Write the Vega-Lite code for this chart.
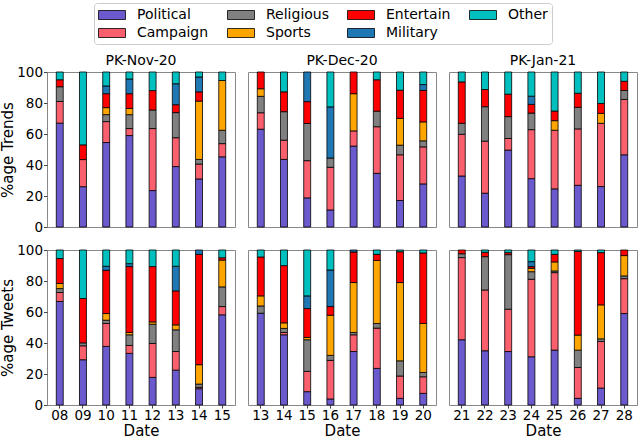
{
  "$schema": "https://vega.github.io/schema/vega-lite/v6.json",
  "padding": {"left": 0, "top": 2, "right": 0, "bottom": 0},
  "bounds": "flush",
  "config": {
    "font": "DejaVu Sans",
    "view": {"stroke": "#888888", "strokeWidth": 1},
    "title": {"fontSize": 14, "fontWeight": "normal", "color": "black", "offset": 4},
    "axis": {"domain": false, "grid": false, "labelFontSize": 13.5, "labelColor": "black", "tickColor": "#444", "tickSize": 3.5, "labelPadding": 1, "titleFontSize": 15, "titleFontWeight": "normal", "titleColor": "black", "titlePadding": 1},
    "axisX": {"tickSize": 3, "labelPadding": 0, "titlePadding": 2, "titleFontSize": 15},
    "legend": {
      "orient": "none", "legendX": 47, "legendY": -69, "columns": 4, "title": null,
      "strokeColor": "#cccccc", "cornerRadius": 3, "padding": 4, "fillColor": "white",
      "symbolType": "M-1,-0.6H2.6V0.6H-1Z", "symbolSize": 225, "symbolStrokeColor": "black", "symbolStrokeWidth": 0.8, "symbolOpacity": 1,
      "labelFontSize": 14, "labelOffset": 23, "columnPadding": 16, "rowPadding": 3
    }
  },
  "data": {
    "values": [
      {"month": "PK-Nov-20", "kind": "Trends", "date": "08", "cat": "Political", "pct": 67},
      {"month": "PK-Nov-20", "kind": "Trends", "date": "08", "cat": "Campaign", "pct": 14},
      {"month": "PK-Nov-20", "kind": "Trends", "date": "08", "cat": "Religious", "pct": 9.5},
      {"month": "PK-Nov-20", "kind": "Trends", "date": "08", "cat": "Entertain", "pct": 4.5},
      {"month": "PK-Nov-20", "kind": "Trends", "date": "08", "cat": "Other", "pct": 5},
      {"month": "PK-Nov-20", "kind": "Trends", "date": "09", "cat": "Political", "pct": 26},
      {"month": "PK-Nov-20", "kind": "Trends", "date": "09", "cat": "Campaign", "pct": 17.5},
      {"month": "PK-Nov-20", "kind": "Trends", "date": "09", "cat": "Entertain", "pct": 9.5},
      {"month": "PK-Nov-20", "kind": "Trends", "date": "09", "cat": "Other", "pct": 47},
      {"month": "PK-Nov-20", "kind": "Trends", "date": "10", "cat": "Political", "pct": 54.5},
      {"month": "PK-Nov-20", "kind": "Trends", "date": "10", "cat": "Campaign", "pct": 13.5},
      {"month": "PK-Nov-20", "kind": "Trends", "date": "10", "cat": "Religious", "pct": 4.5},
      {"month": "PK-Nov-20", "kind": "Trends", "date": "10", "cat": "Sports", "pct": 4.5},
      {"month": "PK-Nov-20", "kind": "Trends", "date": "10", "cat": "Entertain", "pct": 9},
      {"month": "PK-Nov-20", "kind": "Trends", "date": "10", "cat": "Military", "pct": 5},
      {"month": "PK-Nov-20", "kind": "Trends", "date": "10", "cat": "Other", "pct": 9},
      {"month": "PK-Nov-20", "kind": "Trends", "date": "11", "cat": "Political", "pct": 59},
      {"month": "PK-Nov-20", "kind": "Trends", "date": "11", "cat": "Campaign", "pct": 4.5},
      {"month": "PK-Nov-20", "kind": "Trends", "date": "11", "cat": "Religious", "pct": 9},
      {"month": "PK-Nov-20", "kind": "Trends", "date": "11", "cat": "Sports", "pct": 4},
      {"month": "PK-Nov-20", "kind": "Trends", "date": "11", "cat": "Entertain", "pct": 9.5},
      {"month": "PK-Nov-20", "kind": "Trends", "date": "11", "cat": "Military", "pct": 9.5},
      {"month": "PK-Nov-20", "kind": "Trends", "date": "11", "cat": "Other", "pct": 4.5},
      {"month": "PK-Nov-20", "kind": "Trends", "date": "12", "cat": "Political", "pct": 23.5},
      {"month": "PK-Nov-20", "kind": "Trends", "date": "12", "cat": "Campaign", "pct": 40},
      {"month": "PK-Nov-20", "kind": "Trends", "date": "12", "cat": "Religious", "pct": 12},
      {"month": "PK-Nov-20", "kind": "Trends", "date": "12", "cat": "Entertain", "pct": 12.5},
      {"month": "PK-Nov-20", "kind": "Trends", "date": "12", "cat": "Other", "pct": 12},
      {"month": "PK-Nov-20", "kind": "Trends", "date": "13", "cat": "Political", "pct": 39},
      {"month": "PK-Nov-20", "kind": "Trends", "date": "13", "cat": "Campaign", "pct": 18.6},
      {"month": "PK-Nov-20", "kind": "Trends", "date": "13", "cat": "Religious", "pct": 16.2},
      {"month": "PK-Nov-20", "kind": "Trends", "date": "13", "cat": "Entertain", "pct": 5.1},
      {"month": "PK-Nov-20", "kind": "Trends", "date": "13", "cat": "Military", "pct": 13.5},
      {"month": "PK-Nov-20", "kind": "Trends", "date": "13", "cat": "Other", "pct": 7.6},
      {"month": "PK-Nov-20", "kind": "Trends", "date": "14", "cat": "Political", "pct": 31},
      {"month": "PK-Nov-20", "kind": "Trends", "date": "14", "cat": "Campaign", "pct": 9.6},
      {"month": "PK-Nov-20", "kind": "Trends", "date": "14", "cat": "Religious", "pct": 3},
      {"month": "PK-Nov-20", "kind": "Trends", "date": "14", "cat": "Sports", "pct": 37.6},
      {"month": "PK-Nov-20", "kind": "Trends", "date": "14", "cat": "Entertain", "pct": 6},
      {"month": "PK-Nov-20", "kind": "Trends", "date": "14", "cat": "Military", "pct": 9.6},
      {"month": "PK-Nov-20", "kind": "Trends", "date": "14", "cat": "Other", "pct": 3.2},
      {"month": "PK-Nov-20", "kind": "Trends", "date": "15", "cat": "Political", "pct": 45.3},
      {"month": "PK-Nov-20", "kind": "Trends", "date": "15", "cat": "Campaign", "pct": 8.5},
      {"month": "PK-Nov-20", "kind": "Trends", "date": "15", "cat": "Religious", "pct": 8.6},
      {"month": "PK-Nov-20", "kind": "Trends", "date": "15", "cat": "Sports", "pct": 32.1},
      {"month": "PK-Nov-20", "kind": "Trends", "date": "15", "cat": "Other", "pct": 5.5},

      {"month": "PK-Dec-20", "kind": "Trends", "date": "13", "cat": "Political", "pct": 63.1},
      {"month": "PK-Dec-20", "kind": "Trends", "date": "13", "cat": "Campaign", "pct": 10.6},
      {"month": "PK-Dec-20", "kind": "Trends", "date": "13", "cat": "Religious", "pct": 10.6},
      {"month": "PK-Dec-20", "kind": "Trends", "date": "13", "cat": "Sports", "pct": 4.9},
      {"month": "PK-Dec-20", "kind": "Trends", "date": "13", "cat": "Entertain", "pct": 10.8},
      {"month": "PK-Dec-20", "kind": "Trends", "date": "14", "cat": "Political", "pct": 43.6},
      {"month": "PK-Dec-20", "kind": "Trends", "date": "14", "cat": "Campaign", "pct": 12.4},
      {"month": "PK-Dec-20", "kind": "Trends", "date": "14", "cat": "Religious", "pct": 18.4},
      {"month": "PK-Dec-20", "kind": "Trends", "date": "14", "cat": "Entertain", "pct": 12.8},
      {"month": "PK-Dec-20", "kind": "Trends", "date": "14", "cat": "Other", "pct": 12.8},
      {"month": "PK-Dec-20", "kind": "Trends", "date": "15", "cat": "Political", "pct": 18.8},
      {"month": "PK-Dec-20", "kind": "Trends", "date": "15", "cat": "Campaign", "pct": 24},
      {"month": "PK-Dec-20", "kind": "Trends", "date": "15", "cat": "Religious", "pct": 24},
      {"month": "PK-Dec-20", "kind": "Trends", "date": "15", "cat": "Entertain", "pct": 14.1},
      {"month": "PK-Dec-20", "kind": "Trends", "date": "15", "cat": "Military", "pct": 19.1},
      {"month": "PK-Dec-20", "kind": "Trends", "date": "16", "cat": "Political", "pct": 11},
      {"month": "PK-Dec-20", "kind": "Trends", "date": "16", "cat": "Campaign", "pct": 27.5},
      {"month": "PK-Dec-20", "kind": "Trends", "date": "16", "cat": "Religious", "pct": 6},
      {"month": "PK-Dec-20", "kind": "Trends", "date": "16", "cat": "Military", "pct": 33},
      {"month": "PK-Dec-20", "kind": "Trends", "date": "16", "cat": "Other", "pct": 22.5},
      {"month": "PK-Dec-20", "kind": "Trends", "date": "17", "cat": "Political", "pct": 52.2},
      {"month": "PK-Dec-20", "kind": "Trends", "date": "17", "cat": "Campaign", "pct": 9.8},
      {"month": "PK-Dec-20", "kind": "Trends", "date": "17", "cat": "Sports", "pct": 24},
      {"month": "PK-Dec-20", "kind": "Trends", "date": "17", "cat": "Entertain", "pct": 14},
      {"month": "PK-Dec-20", "kind": "Trends", "date": "18", "cat": "Political", "pct": 34.6},
      {"month": "PK-Dec-20", "kind": "Trends", "date": "18", "cat": "Campaign", "pct": 30.1},
      {"month": "PK-Dec-20", "kind": "Trends", "date": "18", "cat": "Religious", "pct": 10},
      {"month": "PK-Dec-20", "kind": "Trends", "date": "18", "cat": "Entertain", "pct": 20.3},
      {"month": "PK-Dec-20", "kind": "Trends", "date": "18", "cat": "Other", "pct": 5},
      {"month": "PK-Dec-20", "kind": "Trends", "date": "19", "cat": "Political", "pct": 17.1},
      {"month": "PK-Dec-20", "kind": "Trends", "date": "19", "cat": "Campaign", "pct": 29.5},
      {"month": "PK-Dec-20", "kind": "Trends", "date": "19", "cat": "Religious", "pct": 6.2},
      {"month": "PK-Dec-20", "kind": "Trends", "date": "19", "cat": "Sports", "pct": 17.3},
      {"month": "PK-Dec-20", "kind": "Trends", "date": "19", "cat": "Entertain", "pct": 18.2},
      {"month": "PK-Dec-20", "kind": "Trends", "date": "19", "cat": "Other", "pct": 11.7},
      {"month": "PK-Dec-20", "kind": "Trends", "date": "20", "cat": "Political", "pct": 27.8},
      {"month": "PK-Dec-20", "kind": "Trends", "date": "20", "cat": "Campaign", "pct": 23.9},
      {"month": "PK-Dec-20", "kind": "Trends", "date": "20", "cat": "Religious", "pct": 3.9},
      {"month": "PK-Dec-20", "kind": "Trends", "date": "20", "cat": "Sports", "pct": 12.2},
      {"month": "PK-Dec-20", "kind": "Trends", "date": "20", "cat": "Entertain", "pct": 20.3},
      {"month": "PK-Dec-20", "kind": "Trends", "date": "20", "cat": "Military", "pct": 3.8},
      {"month": "PK-Dec-20", "kind": "Trends", "date": "20", "cat": "Other", "pct": 8.1},

      {"month": "PK-Jan-21", "kind": "Trends", "date": "21", "cat": "Political", "pct": 32.9},
      {"month": "PK-Jan-21", "kind": "Trends", "date": "21", "cat": "Campaign", "pct": 26.9},
      {"month": "PK-Jan-21", "kind": "Trends", "date": "21", "cat": "Religious", "pct": 7.1},
      {"month": "PK-Jan-21", "kind": "Trends", "date": "21", "cat": "Entertain", "pct": 26.7},
      {"month": "PK-Jan-21", "kind": "Trends", "date": "21", "cat": "Other", "pct": 6.4},
      {"month": "PK-Jan-21", "kind": "Trends", "date": "22", "cat": "Political", "pct": 21.8},
      {"month": "PK-Jan-21", "kind": "Trends", "date": "22", "cat": "Campaign", "pct": 33.6},
      {"month": "PK-Jan-21", "kind": "Trends", "date": "22", "cat": "Religious", "pct": 22.2},
      {"month": "PK-Jan-21", "kind": "Trends", "date": "22", "cat": "Entertain", "pct": 11.1},
      {"month": "PK-Jan-21", "kind": "Trends", "date": "22", "cat": "Other", "pct": 11.3},
      {"month": "PK-Jan-21", "kind": "Trends", "date": "23", "cat": "Political", "pct": 49.6},
      {"month": "PK-Jan-21", "kind": "Trends", "date": "23", "cat": "Campaign", "pct": 7.5},
      {"month": "PK-Jan-21", "kind": "Trends", "date": "23", "cat": "Religious", "pct": 14.1},
      {"month": "PK-Jan-21", "kind": "Trends", "date": "23", "cat": "Entertain", "pct": 14.5},
      {"month": "PK-Jan-21", "kind": "Trends", "date": "23", "cat": "Other", "pct": 14.3},
      {"month": "PK-Jan-21", "kind": "Trends", "date": "24", "cat": "Political", "pct": 31.2},
      {"month": "PK-Jan-21", "kind": "Trends", "date": "24", "cat": "Campaign", "pct": 31.6},
      {"month": "PK-Jan-21", "kind": "Trends", "date": "24", "cat": "Religious", "pct": 10.7},
      {"month": "PK-Jan-21", "kind": "Trends", "date": "24", "cat": "Entertain", "pct": 5.6},
      {"month": "PK-Jan-21", "kind": "Trends", "date": "24", "cat": "Military", "pct": 5.3},
      {"month": "PK-Jan-21", "kind": "Trends", "date": "24", "cat": "Other", "pct": 15.6},
      {"month": "PK-Jan-21", "kind": "Trends", "date": "25", "cat": "Political", "pct": 24.6},
      {"month": "PK-Jan-21", "kind": "Trends", "date": "25", "cat": "Campaign", "pct": 37.8},
      {"month": "PK-Jan-21", "kind": "Trends", "date": "25", "cat": "Sports", "pct": 6.2},
      {"month": "PK-Jan-21", "kind": "Trends", "date": "25", "cat": "Entertain", "pct": 6.2},
      {"month": "PK-Jan-21", "kind": "Trends", "date": "25", "cat": "Other", "pct": 25.2},
      {"month": "PK-Jan-21", "kind": "Trends", "date": "26", "cat": "Political", "pct": 26.9},
      {"month": "PK-Jan-21", "kind": "Trends", "date": "26", "cat": "Campaign", "pct": 36.4},
      {"month": "PK-Jan-21", "kind": "Trends", "date": "26", "cat": "Religious", "pct": 13.9},
      {"month": "PK-Jan-21", "kind": "Trends", "date": "26", "cat": "Entertain", "pct": 9.1},
      {"month": "PK-Jan-21", "kind": "Trends", "date": "26", "cat": "Other", "pct": 13.7},
      {"month": "PK-Jan-21", "kind": "Trends", "date": "27", "cat": "Political", "pct": 26.1},
      {"month": "PK-Jan-21", "kind": "Trends", "date": "27", "cat": "Campaign", "pct": 40.8},
      {"month": "PK-Jan-21", "kind": "Trends", "date": "27", "cat": "Sports", "pct": 6.4},
      {"month": "PK-Jan-21", "kind": "Trends", "date": "27", "cat": "Entertain", "pct": 6.4},
      {"month": "PK-Jan-21", "kind": "Trends", "date": "27", "cat": "Other", "pct": 20.3},
      {"month": "PK-Jan-21", "kind": "Trends", "date": "28", "cat": "Political", "pct": 46.6},
      {"month": "PK-Jan-21", "kind": "Trends", "date": "28", "cat": "Campaign", "pct": 35.7},
      {"month": "PK-Jan-21", "kind": "Trends", "date": "28", "cat": "Religious", "pct": 5.8},
      {"month": "PK-Jan-21", "kind": "Trends", "date": "28", "cat": "Entertain", "pct": 5.9},
      {"month": "PK-Jan-21", "kind": "Trends", "date": "28", "cat": "Other", "pct": 6},

      {"month": "PK-Nov-20", "kind": "Tweets", "date": "08", "cat": "Political", "pct": 66.8},
      {"month": "PK-Nov-20", "kind": "Tweets", "date": "08", "cat": "Campaign", "pct": 5.8},
      {"month": "PK-Nov-20", "kind": "Tweets", "date": "08", "cat": "Religious", "pct": 2.5},
      {"month": "PK-Nov-20", "kind": "Tweets", "date": "08", "cat": "Sports", "pct": 3.3},
      {"month": "PK-Nov-20", "kind": "Tweets", "date": "08", "cat": "Entertain", "pct": 16.1},
      {"month": "PK-Nov-20", "kind": "Tweets", "date": "08", "cat": "Other", "pct": 5.5},
      {"month": "PK-Nov-20", "kind": "Tweets", "date": "09", "cat": "Political", "pct": 29.2},
      {"month": "PK-Nov-20", "kind": "Tweets", "date": "09", "cat": "Campaign", "pct": 9},
      {"month": "PK-Nov-20", "kind": "Tweets", "date": "09", "cat": "Religious", "pct": 1.9},
      {"month": "PK-Nov-20", "kind": "Tweets", "date": "09", "cat": "Entertain", "pct": 28.6},
      {"month": "PK-Nov-20", "kind": "Tweets", "date": "09", "cat": "Other", "pct": 31.3},
      {"month": "PK-Nov-20", "kind": "Tweets", "date": "10", "cat": "Political", "pct": 37.8},
      {"month": "PK-Nov-20", "kind": "Tweets", "date": "10", "cat": "Campaign", "pct": 14.8},
      {"month": "PK-Nov-20", "kind": "Tweets", "date": "10", "cat": "Religious", "pct": 2.1},
      {"month": "PK-Nov-20", "kind": "Tweets", "date": "10", "cat": "Sports", "pct": 4.3},
      {"month": "PK-Nov-20", "kind": "Tweets", "date": "10", "cat": "Entertain", "pct": 27.9},
      {"month": "PK-Nov-20", "kind": "Tweets", "date": "10", "cat": "Military", "pct": 2.6},
      {"month": "PK-Nov-20", "kind": "Tweets", "date": "10", "cat": "Other", "pct": 10.5},
      {"month": "PK-Nov-20", "kind": "Tweets", "date": "11", "cat": "Political", "pct": 33.3},
      {"month": "PK-Nov-20", "kind": "Tweets", "date": "11", "cat": "Campaign", "pct": 5.1},
      {"month": "PK-Nov-20", "kind": "Tweets", "date": "11", "cat": "Religious", "pct": 6.9},
      {"month": "PK-Nov-20", "kind": "Tweets", "date": "11", "cat": "Sports", "pct": 1.5},
      {"month": "PK-Nov-20", "kind": "Tweets", "date": "11", "cat": "Entertain", "pct": 42.5},
      {"month": "PK-Nov-20", "kind": "Tweets", "date": "11", "cat": "Military", "pct": 1.9},
      {"month": "PK-Nov-20", "kind": "Tweets", "date": "11", "cat": "Other", "pct": 8.8},
      {"month": "PK-Nov-20", "kind": "Tweets", "date": "12", "cat": "Political", "pct": 17.8},
      {"month": "PK-Nov-20", "kind": "Tweets", "date": "12", "cat": "Campaign", "pct": 21.9},
      {"month": "PK-Nov-20", "kind": "Tweets", "date": "12", "cat": "Religious", "pct": 12.4},
      {"month": "PK-Nov-20", "kind": "Tweets", "date": "12", "cat": "Sports", "pct": 1.5},
      {"month": "PK-Nov-20", "kind": "Tweets", "date": "12", "cat": "Entertain", "pct": 35.7},
      {"month": "PK-Nov-20", "kind": "Tweets", "date": "12", "cat": "Other", "pct": 10.7},
      {"month": "PK-Nov-20", "kind": "Tweets", "date": "13", "cat": "Political", "pct": 22.5},
      {"month": "PK-Nov-20", "kind": "Tweets", "date": "13", "cat": "Campaign", "pct": 12},
      {"month": "PK-Nov-20", "kind": "Tweets", "date": "13", "cat": "Religious", "pct": 14},
      {"month": "PK-Nov-20", "kind": "Tweets", "date": "13", "cat": "Sports", "pct": 3.2},
      {"month": "PK-Nov-20", "kind": "Tweets", "date": "13", "cat": "Entertain", "pct": 21.9},
      {"month": "PK-Nov-20", "kind": "Tweets", "date": "13", "cat": "Military", "pct": 15.9},
      {"month": "PK-Nov-20", "kind": "Tweets", "date": "13", "cat": "Other", "pct": 10.5},
      {"month": "PK-Nov-20", "kind": "Tweets", "date": "14", "cat": "Political", "pct": 10.5},
      {"month": "PK-Nov-20", "kind": "Tweets", "date": "14", "cat": "Campaign", "pct": 0.9},
      {"month": "PK-Nov-20", "kind": "Tweets", "date": "14", "cat": "Religious", "pct": 2.1},
      {"month": "PK-Nov-20", "kind": "Tweets", "date": "14", "cat": "Sports", "pct": 12.5},
      {"month": "PK-Nov-20", "kind": "Tweets", "date": "14", "cat": "Entertain", "pct": 71.2},
      {"month": "PK-Nov-20", "kind": "Tweets", "date": "14", "cat": "Military", "pct": 2.8},
      {"month": "PK-Nov-20", "kind": "Tweets", "date": "15", "cat": "Political", "pct": 58.2},
      {"month": "PK-Nov-20", "kind": "Tweets", "date": "15", "cat": "Campaign", "pct": 5.3},
      {"month": "PK-Nov-20", "kind": "Tweets", "date": "15", "cat": "Religious", "pct": 12.7},
      {"month": "PK-Nov-20", "kind": "Tweets", "date": "15", "cat": "Sports", "pct": 17.3},
      {"month": "PK-Nov-20", "kind": "Tweets", "date": "15", "cat": "Entertain", "pct": 1.5},
      {"month": "PK-Nov-20", "kind": "Tweets", "date": "15", "cat": "Other", "pct": 5},

      {"month": "PK-Dec-20", "kind": "Tweets", "date": "13", "cat": "Political", "pct": 59.2},
      {"month": "PK-Dec-20", "kind": "Tweets", "date": "13", "cat": "Religious", "pct": 4.7},
      {"month": "PK-Dec-20", "kind": "Tweets", "date": "13", "cat": "Sports", "pct": 6.5},
      {"month": "PK-Dec-20", "kind": "Tweets", "date": "13", "cat": "Entertain", "pct": 25.1},
      {"month": "PK-Dec-20", "kind": "Tweets", "date": "13", "cat": "Other", "pct": 4.5},
      {"month": "PK-Dec-20", "kind": "Tweets", "date": "14", "cat": "Political", "pct": 45.3},
      {"month": "PK-Dec-20", "kind": "Tweets", "date": "14", "cat": "Campaign", "pct": 1.5},
      {"month": "PK-Dec-20", "kind": "Tweets", "date": "14", "cat": "Religious", "pct": 2.6},
      {"month": "PK-Dec-20", "kind": "Tweets", "date": "14", "cat": "Sports", "pct": 3.6},
      {"month": "PK-Dec-20", "kind": "Tweets", "date": "14", "cat": "Entertain", "pct": 36.9},
      {"month": "PK-Dec-20", "kind": "Tweets", "date": "14", "cat": "Other", "pct": 10.1},
      {"month": "PK-Dec-20", "kind": "Tweets", "date": "15", "cat": "Political", "pct": 8.6},
      {"month": "PK-Dec-20", "kind": "Tweets", "date": "15", "cat": "Campaign", "pct": 13.1},
      {"month": "PK-Dec-20", "kind": "Tweets", "date": "15", "cat": "Religious", "pct": 20.4},
      {"month": "PK-Dec-20", "kind": "Tweets", "date": "15", "cat": "Sports", "pct": 1.5},
      {"month": "PK-Dec-20", "kind": "Tweets", "date": "15", "cat": "Entertain", "pct": 18.6},
      {"month": "PK-Dec-20", "kind": "Tweets", "date": "15", "cat": "Military", "pct": 8.2},
      {"month": "PK-Dec-20", "kind": "Tweets", "date": "15", "cat": "Other", "pct": 29.6},
      {"month": "PK-Dec-20", "kind": "Tweets", "date": "16", "cat": "Political", "pct": 3.9},
      {"month": "PK-Dec-20", "kind": "Tweets", "date": "16", "cat": "Campaign", "pct": 24.9},
      {"month": "PK-Dec-20", "kind": "Tweets", "date": "16", "cat": "Religious", "pct": 3.2},
      {"month": "PK-Dec-20", "kind": "Tweets", "date": "16", "cat": "Sports", "pct": 25.9},
      {"month": "PK-Dec-20", "kind": "Tweets", "date": "16", "cat": "Entertain", "pct": 5.6},
      {"month": "PK-Dec-20", "kind": "Tweets", "date": "16", "cat": "Military", "pct": 23.6},
      {"month": "PK-Dec-20", "kind": "Tweets", "date": "16", "cat": "Other", "pct": 12.9},
      {"month": "PK-Dec-20", "kind": "Tweets", "date": "17", "cat": "Political", "pct": 34.5},
      {"month": "PK-Dec-20", "kind": "Tweets", "date": "17", "cat": "Campaign", "pct": 10.8},
      {"month": "PK-Dec-20", "kind": "Tweets", "date": "17", "cat": "Religious", "pct": 1.5},
      {"month": "PK-Dec-20", "kind": "Tweets", "date": "17", "cat": "Sports", "pct": 32.2},
      {"month": "PK-Dec-20", "kind": "Tweets", "date": "17", "cat": "Entertain", "pct": 19.7},
      {"month": "PK-Dec-20", "kind": "Tweets", "date": "17", "cat": "Military", "pct": 1.3},
      {"month": "PK-Dec-20", "kind": "Tweets", "date": "18", "cat": "Political", "pct": 23.6},
      {"month": "PK-Dec-20", "kind": "Tweets", "date": "18", "cat": "Campaign", "pct": 26},
      {"month": "PK-Dec-20", "kind": "Tweets", "date": "18", "cat": "Religious", "pct": 3},
      {"month": "PK-Dec-20", "kind": "Tweets", "date": "18", "cat": "Sports", "pct": 40.7},
      {"month": "PK-Dec-20", "kind": "Tweets", "date": "18", "cat": "Entertain", "pct": 3.9},
      {"month": "PK-Dec-20", "kind": "Tweets", "date": "18", "cat": "Other", "pct": 2.8},
      {"month": "PK-Dec-20", "kind": "Tweets", "date": "19", "cat": "Political", "pct": 4.3},
      {"month": "PK-Dec-20", "kind": "Tweets", "date": "19", "cat": "Campaign", "pct": 14.4},
      {"month": "PK-Dec-20", "kind": "Tweets", "date": "19", "cat": "Religious", "pct": 9.8},
      {"month": "PK-Dec-20", "kind": "Tweets", "date": "19", "cat": "Sports", "pct": 50.5},
      {"month": "PK-Dec-20", "kind": "Tweets", "date": "19", "cat": "Entertain", "pct": 19.9},
      {"month": "PK-Dec-20", "kind": "Tweets", "date": "19", "cat": "Other", "pct": 1.1},
      {"month": "PK-Dec-20", "kind": "Tweets", "date": "20", "cat": "Political", "pct": 7.5},
      {"month": "PK-Dec-20", "kind": "Tweets", "date": "20", "cat": "Campaign", "pct": 10.7},
      {"month": "PK-Dec-20", "kind": "Tweets", "date": "20", "cat": "Religious", "pct": 2.8},
      {"month": "PK-Dec-20", "kind": "Tweets", "date": "20", "cat": "Sports", "pct": 31.6},
      {"month": "PK-Dec-20", "kind": "Tweets", "date": "20", "cat": "Entertain", "pct": 45.5},
      {"month": "PK-Dec-20", "kind": "Tweets", "date": "20", "cat": "Other", "pct": 1.9},

      {"month": "PK-Jan-21", "kind": "Tweets", "date": "21", "cat": "Political", "pct": 42.1},
      {"month": "PK-Jan-21", "kind": "Tweets", "date": "21", "cat": "Campaign", "pct": 53},
      {"month": "PK-Jan-21", "kind": "Tweets", "date": "21", "cat": "Religious", "pct": 2.5},
      {"month": "PK-Jan-21", "kind": "Tweets", "date": "21", "cat": "Entertain", "pct": 2.4},
      {"month": "PK-Jan-21", "kind": "Tweets", "date": "22", "cat": "Political", "pct": 35},
      {"month": "PK-Jan-21", "kind": "Tweets", "date": "22", "cat": "Campaign", "pct": 39.2},
      {"month": "PK-Jan-21", "kind": "Tweets", "date": "22", "cat": "Religious", "pct": 21.5},
      {"month": "PK-Jan-21", "kind": "Tweets", "date": "22", "cat": "Entertain", "pct": 2.8},
      {"month": "PK-Jan-21", "kind": "Tweets", "date": "22", "cat": "Other", "pct": 1.5},
      {"month": "PK-Jan-21", "kind": "Tweets", "date": "23", "cat": "Political", "pct": 34.5},
      {"month": "PK-Jan-21", "kind": "Tweets", "date": "23", "cat": "Campaign", "pct": 27.3},
      {"month": "PK-Jan-21", "kind": "Tweets", "date": "23", "cat": "Religious", "pct": 35.2},
      {"month": "PK-Jan-21", "kind": "Tweets", "date": "23", "cat": "Entertain", "pct": 1.3},
      {"month": "PK-Jan-21", "kind": "Tweets", "date": "23", "cat": "Other", "pct": 1.7},
      {"month": "PK-Jan-21", "kind": "Tweets", "date": "24", "cat": "Political", "pct": 31.1},
      {"month": "PK-Jan-21", "kind": "Tweets", "date": "24", "cat": "Campaign", "pct": 50},
      {"month": "PK-Jan-21", "kind": "Tweets", "date": "24", "cat": "Religious", "pct": 4.9},
      {"month": "PK-Jan-21", "kind": "Tweets", "date": "24", "cat": "Sports", "pct": 2.2},
      {"month": "PK-Jan-21", "kind": "Tweets", "date": "24", "cat": "Entertain", "pct": 1.1},
      {"month": "PK-Jan-21", "kind": "Tweets", "date": "24", "cat": "Military", "pct": 3.2},
      {"month": "PK-Jan-21", "kind": "Tweets", "date": "24", "cat": "Other", "pct": 7.5},
      {"month": "PK-Jan-21", "kind": "Tweets", "date": "25", "cat": "Political", "pct": 35.4},
      {"month": "PK-Jan-21", "kind": "Tweets", "date": "25", "cat": "Campaign", "pct": 50},
      {"month": "PK-Jan-21", "kind": "Tweets", "date": "25", "cat": "Religious", "pct": 1.1},
      {"month": "PK-Jan-21", "kind": "Tweets", "date": "25", "cat": "Sports", "pct": 5.8},
      {"month": "PK-Jan-21", "kind": "Tweets", "date": "25", "cat": "Entertain", "pct": 4.9},
      {"month": "PK-Jan-21", "kind": "Tweets", "date": "25", "cat": "Other", "pct": 2.8},
      {"month": "PK-Jan-21", "kind": "Tweets", "date": "26", "cat": "Political", "pct": 4.3},
      {"month": "PK-Jan-21", "kind": "Tweets", "date": "26", "cat": "Campaign", "pct": 19.9},
      {"month": "PK-Jan-21", "kind": "Tweets", "date": "26", "cat": "Religious", "pct": 11.2},
      {"month": "PK-Jan-21", "kind": "Tweets", "date": "26", "cat": "Sports", "pct": 9.7},
      {"month": "PK-Jan-21", "kind": "Tweets", "date": "26", "cat": "Entertain", "pct": 54},
      {"month": "PK-Jan-21", "kind": "Tweets", "date": "26", "cat": "Other", "pct": 0.9},
      {"month": "PK-Jan-21", "kind": "Tweets", "date": "27", "cat": "Political", "pct": 10.9},
      {"month": "PK-Jan-21", "kind": "Tweets", "date": "27", "cat": "Campaign", "pct": 30.1},
      {"month": "PK-Jan-21", "kind": "Tweets", "date": "27", "cat": "Religious", "pct": 1.7},
      {"month": "PK-Jan-21", "kind": "Tweets", "date": "27", "cat": "Sports", "pct": 21.9},
      {"month": "PK-Jan-21", "kind": "Tweets", "date": "27", "cat": "Entertain", "pct": 33.7},
      {"month": "PK-Jan-21", "kind": "Tweets", "date": "27", "cat": "Other", "pct": 1.7},
      {"month": "PK-Jan-21", "kind": "Tweets", "date": "28", "cat": "Political", "pct": 59},
      {"month": "PK-Jan-21", "kind": "Tweets", "date": "28", "cat": "Campaign", "pct": 22.5},
      {"month": "PK-Jan-21", "kind": "Tweets", "date": "28", "cat": "Religious", "pct": 1.8},
      {"month": "PK-Jan-21", "kind": "Tweets", "date": "28", "cat": "Sports", "pct": 13.1},
      {"month": "PK-Jan-21", "kind": "Tweets", "date": "28", "cat": "Entertain", "pct": 3.6}
    ]
  },
  "transform": [
    {"calculate": "indexof(['Political','Campaign','Religious','Sports','Entertain','Military','Other'], datum.cat)", "as": "stackOrder"}
  ],
  "columns": 3,
  "spacing": {"row": 23, "column": 13},
  "concat": [
    {
      "width": 188, "height": 155, "title": {"text": "PK-Nov-20", "offset": -3},
      "transform": [{"filter": "datum.month == 'PK-Nov-20' && datum.kind == 'Trends'"}],
      "mark": {"type": "bar", "stroke": "black", "strokeWidth": 0.8},
      "encoding": {
        "x": {"field": "date", "type": "ordinal", "scale": {"paddingInner": 0.7, "paddingOuter": 0.4}, "axis": null},
        "y": {"field": "pct", "type": "quantitative", "stack": "zero", "scale": {"domain": [0, 100]}, "axis": {"title": "%age Trends", "values": [0, 20, 40, 60, 80, 100]}},
        "color": {"field": "cat", "type": "nominal", "scale": {"domain": ["Political", "Campaign", "Religious", "Sports", "Entertain", "Military", "Other"], "range": ["#6a5acd", "#fa5f6e", "#808080", "#ffa500", "#ff0000", "#1f77b4", "#00bfbf"]}},
        "order": {"field": "stackOrder", "type": "quantitative"}
      }
    },
    {
      "width": 188, "height": 155, "title": "PK-Dec-20",
      "transform": [{"filter": "datum.month == 'PK-Dec-20' && datum.kind == 'Trends'"}],
      "mark": {"type": "bar", "stroke": "black", "strokeWidth": 0.8},
      "encoding": {
        "x": {"field": "date", "type": "ordinal", "scale": {"paddingInner": 0.7, "paddingOuter": 0.4}, "axis": null},
        "y": {"field": "pct", "type": "quantitative", "stack": "zero", "scale": {"domain": [0, 100]}, "axis": null},
        "color": {"field": "cat", "type": "nominal"},
        "order": {"field": "stackOrder", "type": "quantitative"}
      }
    },
    {
      "width": 188, "height": 155, "title": "PK-Jan-21",
      "transform": [{"filter": "datum.month == 'PK-Jan-21' && datum.kind == 'Trends'"}],
      "mark": {"type": "bar", "stroke": "black", "strokeWidth": 0.8},
      "encoding": {
        "x": {"field": "date", "type": "ordinal", "scale": {"paddingInner": 0.7, "paddingOuter": 0.4}, "axis": null},
        "y": {"field": "pct", "type": "quantitative", "stack": "zero", "scale": {"domain": [0, 100]}, "axis": null},
        "color": {"field": "cat", "type": "nominal"},
        "order": {"field": "stackOrder", "type": "quantitative"}
      }
    },
    {
      "width": 188, "height": 155,
      "transform": [{"filter": "datum.month == 'PK-Nov-20' && datum.kind == 'Tweets'"}],
      "mark": {"type": "bar", "stroke": "black", "strokeWidth": 0.8},
      "encoding": {
        "x": {"field": "date", "type": "ordinal", "scale": {"paddingInner": 0.7, "paddingOuter": 0.4}, "axis": {"title": "Date", "labelAngle": 0}},
        "y": {"field": "pct", "type": "quantitative", "stack": "zero", "scale": {"domain": [0, 100]}, "axis": {"title": "%age Tweets", "values": [0, 20, 40, 60, 80, 100]}},
        "color": {"field": "cat", "type": "nominal"},
        "order": {"field": "stackOrder", "type": "quantitative"}
      }
    },
    {
      "width": 188, "height": 155,
      "transform": [{"filter": "datum.month == 'PK-Dec-20' && datum.kind == 'Tweets'"}],
      "mark": {"type": "bar", "stroke": "black", "strokeWidth": 0.8},
      "encoding": {
        "x": {"field": "date", "type": "ordinal", "scale": {"paddingInner": 0.7, "paddingOuter": 0.4}, "axis": {"title": "Date", "labelAngle": 0}},
        "y": {"field": "pct", "type": "quantitative", "stack": "zero", "scale": {"domain": [0, 100]}, "axis": null},
        "color": {"field": "cat", "type": "nominal"},
        "order": {"field": "stackOrder", "type": "quantitative"}
      }
    },
    {
      "width": 188, "height": 155,
      "transform": [{"filter": "datum.month == 'PK-Jan-21' && datum.kind == 'Tweets'"}],
      "mark": {"type": "bar", "stroke": "black", "strokeWidth": 0.8},
      "encoding": {
        "x": {"field": "date", "type": "ordinal", "scale": {"paddingInner": 0.7, "paddingOuter": 0.4}, "axis": {"title": "Date", "labelAngle": 0}},
        "y": {"field": "pct", "type": "quantitative", "stack": "zero", "scale": {"domain": [0, 100]}, "axis": null},
        "color": {"field": "cat", "type": "nominal"},
        "order": {"field": "stackOrder", "type": "quantitative"}
      }
    }
  ]
}
